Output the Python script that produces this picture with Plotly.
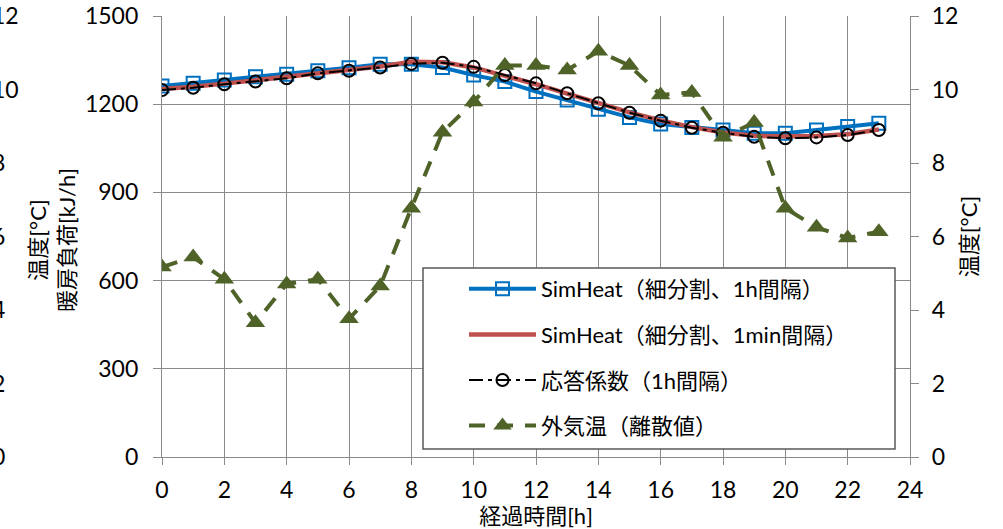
import plotly.graph_objects as go

hours = list(range(24))
x_ticks = list(range(0, 25, 2))

simheat_1h = [1262, 1271, 1282, 1293, 1302, 1314, 1324, 1336, 1336, 1325, 1299, 1277,
              1243, 1214, 1183, 1155, 1133, 1121, 1112, 1101, 1101, 1112, 1124, 1135]
simheat_1min = [1252, 1259, 1270, 1281, 1292, 1306, 1317, 1328, 1344, 1343, 1325, 1298,
                1268, 1236, 1203, 1172, 1145, 1122, 1104, 1093, 1090, 1092, 1098, 1114]
response_1h = [1248, 1256, 1268, 1277, 1288, 1305, 1314, 1325, 1337, 1341, 1327, 1299,
               1271, 1237, 1203, 1171, 1144, 1120, 1103, 1089, 1084, 1087, 1095, 1112]
outdoor_temp = [5.17, 5.44, 4.84, 3.65, 4.71, 4.84, 3.76, 4.65, 6.77, 8.84, 9.66, 10.65,
                10.65, 10.53, 11.04, 10.65, 9.85, 9.92, 8.70, 9.10, 6.77, 6.25, 5.96, 6.13]

names = ["SimHeat（細分割、1h間隔）", "SimHeat（細分割、1min間隔）",
         "応答係数（1h間隔）", "外気温（離散値）"]

FONT = "Lato, 'Noto Sans CJK JP', sans-serif"
GRID = "#898989"
OFF = 12                      # figure is drawn OFF px wider and shifted left
W, H = 1003 + OFF, 529
ML, MR, MT, MB = 0, 93, 16, 72
PW = W - ML - MR
PH = H - MT - MB
X0 = 162 + OFF


def px_x(px):
    return (px + OFF - ML) / PW


def px_y(py):
    return (H - MB - py) / PH


fig = go.Figure()
fig.add_trace(go.Scatter(x=hours, y=simheat_1h, name=names[0], legendgroup="a",
                         mode="lines+markers",
                         line=dict(color="#0070C0", width=4),
                         marker=dict(symbol="square-open", size=13, color="#0070C0",
                                     line=dict(width=2, color="#0070C0"))))
fig.add_trace(go.Scatter(x=hours, y=simheat_1min, name=names[1], legendgroup="b",
                         mode="lines",
                         line=dict(color="#C0504D", width=4.5)))
fig.add_trace(go.Scatter(x=hours, y=response_1h, name=names[2], legendgroup="c",
                         mode="lines+markers",
                         line=dict(color="#000000", width=2, dash="14px,5px,4px,5px"),
                         marker=dict(symbol="circle-open", size=12, color="#000000",
                                     line=dict(width=2, color="#000000"))))
fig.add_trace(go.Scatter(x=hours, y=outdoor_temp, name=names[3], legendgroup="d",
                         yaxis="y2", mode="lines+markers",
                         line=dict(color="#4F6228", width=4, dash="16px,12px"),
                         marker=dict(symbol="triangle-up", size=17, color="#4F6228")))

# axis at the very left edge whose labels are cut off, as in the reference
fig.add_trace(go.Scatter(x=[None], y=[None], yaxis="y3", showlegend=False,
                         hoverinfo="skip"))

axis_common = dict(showline=True, linecolor=GRID, linewidth=1.3, ticks="outside",
                   tickcolor=GRID, tickwidth=1.3, tickfont=dict(size=23, color="#000"),
                   zeroline=False)

fig.update_layout(
    width=W, height=H,
    margin=dict(l=ML, r=MR, t=MT, b=MB, autoexpand=False),
    paper_bgcolor="white", plot_bgcolor="white",
    font=dict(family=FONT, color="#000"),
    showlegend=True,
    xaxis=dict(domain=[X0 / PW, 1], range=[0, 24], tickvals=x_ticks,
               showgrid=True, gridcolor=GRID, gridwidth=1.3, ticklen=7,
               ticklabelstandoff=5,
               title=dict(text="経過時間[h]", font=dict(size=22), standoff=0),
               automargin=False, **axis_common),
    yaxis=dict(range=[0, 1500], dtick=300, showgrid=True, gridcolor=GRID, gridwidth=1.3,
               ticklen=8, ticklabelstandoff=10, automargin=False, **axis_common),
    yaxis2=dict(range=[0, 12], dtick=2, overlaying="y", side="right", anchor="x",
                showgrid=False, ticklen=8, ticklabelstandoff=8,
                title=dict(text="温度[°C]", font=dict(size=22), standoff=4),
                automargin=False, **axis_common),
    yaxis3=dict(range=[0, 12], dtick=2, overlaying="y", side="left", anchor="free",
                position=0, showgrid=False, showline=False, ticks="", zeroline=False,
                ticklabelposition="inside", ticklabeloverflow="allow",
                tickfont=dict(size=23, color="#000"), automargin=False),
    legend=dict(x=px_x(423), y=px_y(268), xanchor="left", yanchor="top",
                bgcolor="rgba(0,0,0,0)", borderwidth=0,
                font=dict(size=22, family=FONT), itemwidth=67, indentation=41,
                tracegroupgap=14),
    shapes=[dict(type="rect", xref="paper", yref="paper", layer="above",
                 x0=px_x(423), x1=px_x(895), y0=px_y(449), y1=px_y(268),
                 fillcolor="white", line=dict(color="#595959", width=1.5))],
    annotations=[dict(text="温度[°C]<br>暖房負荷[kJ/h]", textangle=-90,
                      xref="paper", yref="paper", x=px_x(52), y=px_y(240),
                      xanchor="center", yanchor="middle", showarrow=False,
                      font=dict(size=22, family=FONT))],
)

post = ("document.body.style.margin='0';document.body.style.overflow='hidden';"
        "var d=document.getElementById('{plot_id}');d.style.marginLeft='-%dpx';" % OFF)
fig.write_html("out.html", post_script=post, config={"displayModeBar": False})
